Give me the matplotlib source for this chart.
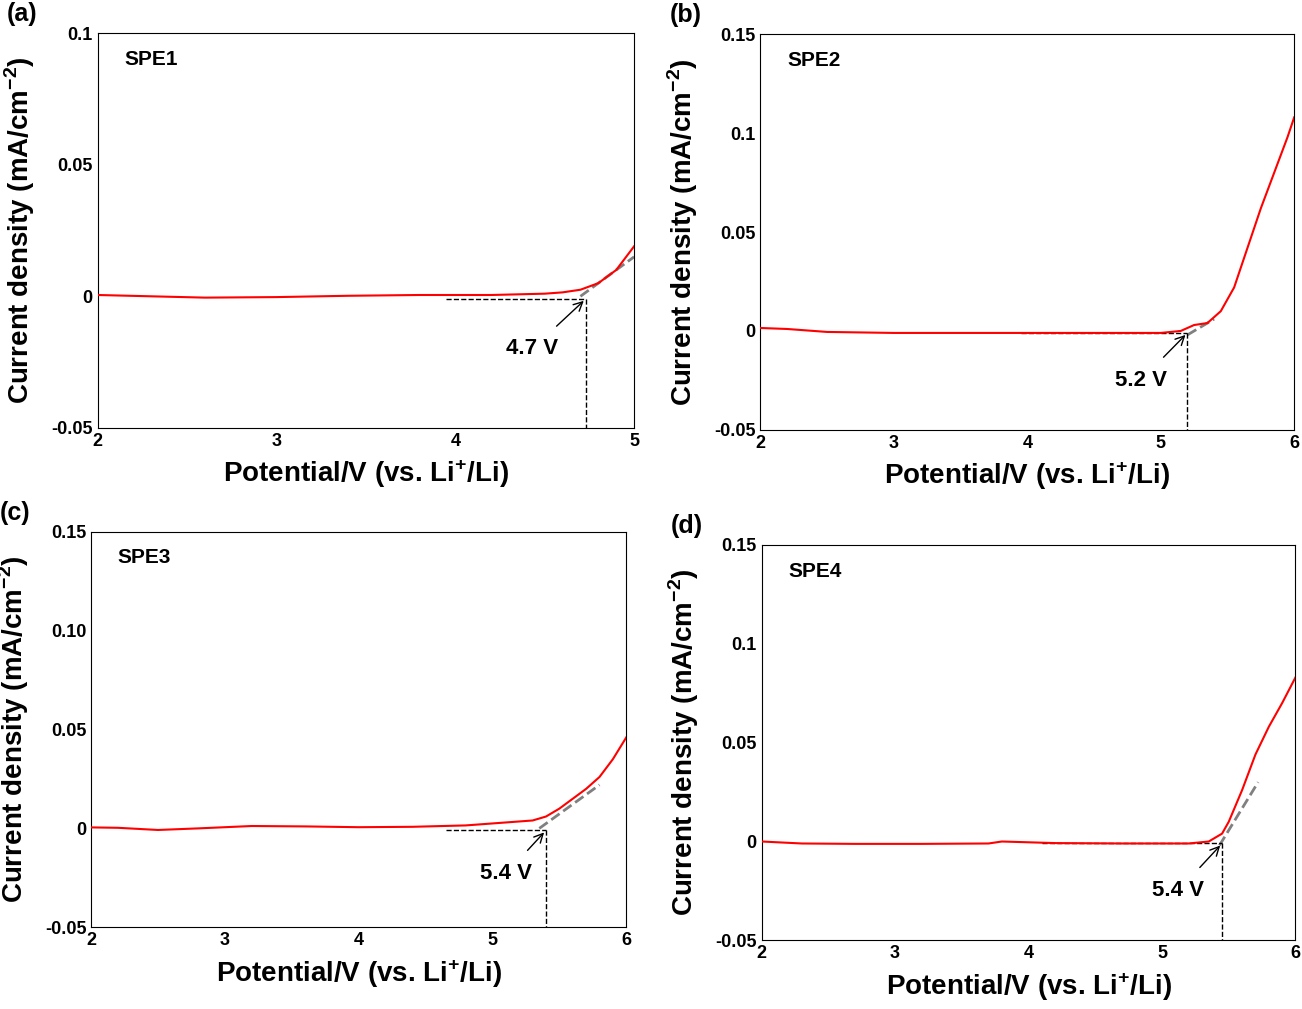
import matplotlib
matplotlib.use('Agg')
import matplotlib.pyplot as plt
import numpy as np
plt.rcParams['font.family']=['Liberation Sans','DejaVu Sans']
plt.rcParams['font.weight']='bold'
plt.rcParams['mathtext.fontset']='custom'
plt.rcParams['mathtext.bf']='Liberation Sans:bold'
plt.rcParams['mathtext.rm']='Liberation Sans:bold'

xa=[2,2.3,2.6,3.0,3.4,3.8,4.2,4.5,4.6,4.7,4.8,4.9,5.0]
ya=[0.0005,0.0,-0.0005,-0.0003,0.0002,0.0005,0.0005,0.001,0.0015,0.0025,0.005,0.01,0.019]
xb=[2,2.2,2.5,3,3.5,4,4.5,5.0,5.15,5.25,5.35,5.45,5.55,5.65,5.75,5.85,5.95,6.0]
yb=[0.0015,0.001,-0.0005,-0.001,-0.001,-0.001,-0.001,-0.001,0.0,0.003,0.004,0.01,0.022,0.042,0.062,0.08,0.098,0.108]
xc=[2,2.2,2.5,2.8,3.2,3.6,4,4.4,4.8,5.1,5.3,5.4,5.5,5.6,5.7,5.8,5.9,6.0]
yc=[0.0005,0.0003,-0.0008,0.0,0.0012,0.001,0.0006,0.0008,0.0015,0.003,0.004,0.006,0.01,0.015,0.02,0.026,0.035,0.046]
xd=[2,2.3,2.7,3.2,3.7,3.8,4.2,4.7,5.2,5.35,5.45,5.5,5.6,5.7,5.8,5.9,6.0]
yd=[0.0,-0.001,-0.0012,-0.0012,-0.001,0.0,-0.0008,-0.001,-0.001,0.0,0.004,0.01,0.026,0.044,0.058,0.07,0.083]

panels=[
 dict(rect=[0.075,0.576,0.412,0.391],x=xa,y=ya,xl=(2,5),yl=(-0.05,0.1),yt=[-0.05,0,0.05,0.1],ytl=['-0.05','0','0.05','0.1'],
      lab='(a)',name='SPE1',onset=4.73,hx0=3.95,tan=(4.7,0,5.0,0.015),txt=(4.43,-0.02),tl='4.7 V'),
 dict(rect=[0.584,0.574,0.410,0.392],x=xb,y=yb,xl=(2,6),yl=(-0.05,0.15),yt=[-0.05,0,0.05,0.1,0.15],ytl=['-0.05','0','0.05','0.1','0.15'],
      lab='(b)',name='SPE2',onset=5.2,hx0=3.95,tan=(5.2,-0.002,5.4,0.006),txt=(4.85,-0.025),tl='5.2 V'),
 dict(rect=[0.070,0.081,0.411,0.392],x=xc,y=yc,xl=(2,6),yl=(-0.05,0.15),yt=[-0.05,0,0.05,0.1,0.15],ytl=['-0.05','0','0.05','0.10','0.15'],
      lab='(c)',name='SPE3',onset=5.4,hx0=4.65,tan=(5.35,0,5.8,0.022),txt=(5.1,-0.023),tl='5.4 V'),
 dict(rect=[0.585,0.068,0.410,0.392],x=xd,y=yd,xl=(2,6),yl=(-0.05,0.15),yt=[-0.05,0,0.05,0.1,0.15],ytl=['-0.05','0','0.05','0.1','0.15'],
      lab='(d)',name='SPE4',onset=5.45,hx0=4.1,tan=(5.43,-0.002,5.72,0.03),txt=(5.12,-0.025),tl='5.4 V'),
]
fig=plt.figure(figsize=(13.02,10.09),dpi=100)
for p in panels:
    ax=fig.add_axes(p['rect'])
    ax.plot(p['x'],p['y'],color='red',lw=1.5,zorder=3)
    t=p['tan']
    ax.plot([t[0],t[2]],[t[1],t[3]],color='gray',ls='--',lw=2,zorder=2)
    ax.plot([p['hx0'],p['onset']],[-0.001,-0.001],color='black',ls='--',lw=1)
    ax.plot([p['onset'],p['onset']],[-0.001,p['yl'][0]],color='black',ls='--',lw=1)
    ax.annotate(p['tl'],xy=(p['onset'],-0.001),xytext=p['txt'],ha='center',va='center',fontsize=16,fontweight='bold',
                arrowprops=dict(arrowstyle='->',color='black',lw=1,shrinkA=10))
    ax.set_xlim(*p['xl']); ax.set_ylim(*p['yl'])
    ax.set_xticks(range(p['xl'][0],p['xl'][1]+1))
    ax.set_yticks(p['yt']); ax.set_yticklabels(p['ytl'])
    ax.tick_params(labelsize=13,direction='in',length=0)
    for l in ax.get_xticklabels()+ax.get_yticklabels(): l.set_fontweight('bold')
    ax.set_xlabel('Potential/V (vs. Li$^{+}$/Li)',fontsize=20,fontweight='bold',labelpad=6)
    ax.set_ylabel('Current density (mA/cm$^{-2}$)',fontsize=20,fontweight='bold',labelpad=10)
    ax.text(0.05,0.92,p['name'],transform=ax.transAxes,fontsize=15,fontweight='bold')
    ax.text(-0.17,1.03,p['lab'],transform=ax.transAxes,fontsize=18,fontweight='bold')
fig.savefig('out.png',dpi=100)
